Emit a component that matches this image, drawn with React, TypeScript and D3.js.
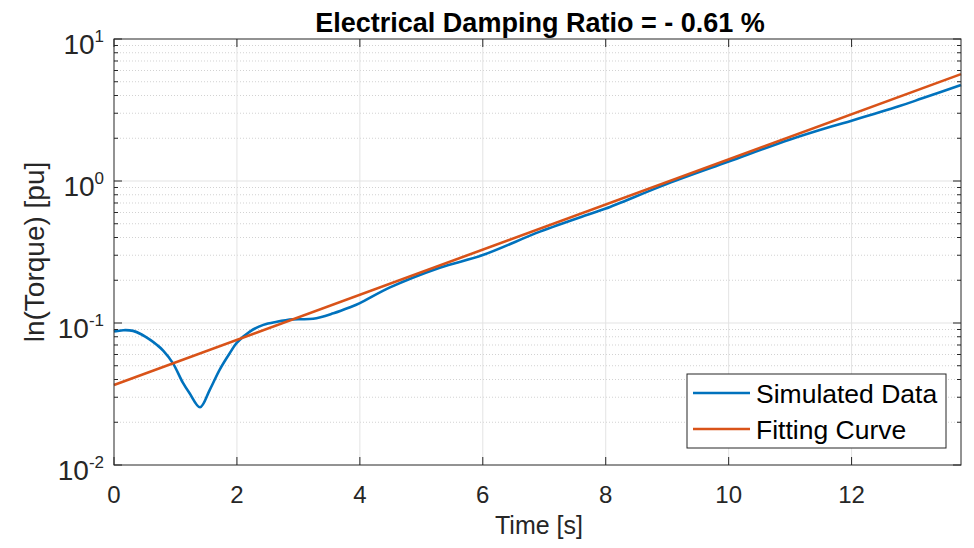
import React from "react";
import * as d3 from "d3";

// Simulated torque envelope (time in s, torque in pu)
const simTime = [0, 0.15, 0.31, 0.45, 0.59, 0.7, 0.8, 0.96, 1.12, 1.23, 1.4, 1.56, 1.72, 1.88, 2.0, 2.21, 2.43, 2.65, 2.91, 3.24, 3.57, 3.84, 4.0, 4.49, 5.3, 6.0, 6.93, 7.74, 8.0, 9.0, 10.0, 11.0, 11.7, 12.0, 12.78, 13.15, 13.78];
const simTorque = [0.087, 0.089, 0.088, 0.083, 0.076, 0.07, 0.064, 0.052, 0.038, 0.032, 0.0255, 0.034, 0.047, 0.061, 0.0727, 0.087, 0.097, 0.102, 0.106, 0.107, 0.117, 0.129, 0.138, 0.178, 0.245, 0.301, 0.44, 0.586, 0.64, 0.955, 1.37, 1.96, 2.44, 2.66, 3.37, 3.82, 4.74];

// Exponential fit (a straight line on the log axis): endpoints
const fitTime = [0, 13.78];
const fitTorque = [0.0366, 5.66];

const xTickValues = [0, 2, 4, 6, 8, 10, 12];
const yDecades = [0.01, 0.1, 1, 10];
const yExponents = ["-2", "-1", "0", "1"];

const legendLabels = ["Simulated Data", "Fitting Curve"];
const seriesColors = ["#0072BD", "#D95319"];

const W = 974;
const H = 548;
const M = { left: 114, right: 961, top: 39, bottom: 465 };
const FONT = "'Liberation Sans', Arial, Helvetica, sans-serif";
const INK = "#262626";

export default function App() {
  const x = d3.scaleLinear().domain([0, 13.78]).range([M.left, M.right]);
  const y = d3.scaleLog().domain([0.01, 10]).range([M.bottom, M.top]);

  const minorY: number[] = [];
  for (let d = 0; d < yDecades.length - 1; d++) {
    for (let k = 2; k <= 9; k++) minorY.push(yDecades[d] * k);
  }

  const line = d3
    .line<[number, number]>()
    .x((d) => x(d[0]))
    .y((d) => y(d[1]))
    .curve(d3.curveCatmullRom.alpha(0.5));

  const simPts = simTime.map((t, i) => [t, simTorque[i]] as [number, number]);
  const fitPts = fitTime.map((t, i) => [t, fitTorque[i]] as [number, number]);
  const fitLine = d3
    .line<[number, number]>()
    .x((d) => x(d[0]))
    .y((d) => y(d[1]));

  const majorLen = 8;
  const minorLen = 4;

  return (
    <svg
      width={W}
      height={H}
      style={{ position: "absolute", left: 0, top: 0, background: "#fff" }}
      fontFamily={FONT}
    >
      <rect x={0} y={0} width={W} height={H} fill="#fff" />

      {/* minor grid (log axis) */}
      {minorY.map((v) => (
        <line
          key={"mg" + v}
          x1={M.left}
          x2={M.right}
          y1={y(v)}
          y2={y(v)}
          stroke="#d2d2d2"
          strokeWidth={1}
          strokeDasharray="1,2"
        />
      ))}
      {/* major grid */}
      {xTickValues.slice(1).map((v) => (
        <line key={"gx" + v} x1={x(v)} x2={x(v)} y1={M.top} y2={M.bottom} stroke="#e3e3e3" strokeWidth={1} />
      ))}
      {yDecades.slice(1, -1).map((v) => (
        <line key={"gy" + v} x1={M.left} x2={M.right} y1={y(v)} y2={y(v)} stroke="#e3e3e3" strokeWidth={1} />
      ))}

      {/* data */}
      <path d={line(simPts) || ""} fill="none" stroke={seriesColors[0]} strokeWidth={2.6} strokeLinejoin="round" />
      <path d={fitLine(fitPts) || ""} fill="none" stroke={seriesColors[1]} strokeWidth={2.6} />

      {/* axes box */}
      <rect
        x={M.left}
        y={M.top}
        width={M.right - M.left}
        height={M.bottom - M.top}
        fill="none"
        stroke={INK}
        strokeWidth={1}
      />

      {/* x ticks (inward, bottom and top) */}
      {xTickValues.map((v) => (
        <g key={"xt" + v}>
          <line x1={x(v)} x2={x(v)} y1={M.bottom} y2={M.bottom - majorLen} stroke={INK} />
          <line x1={x(v)} x2={x(v)} y1={M.top} y2={M.top + majorLen} stroke={INK} />
          <text x={x(v)} y={503} textAnchor="middle" fontSize={24} fill={INK}>
            {v}
          </text>
        </g>
      ))}

      {/* y ticks (inward, left and right) */}
      {yDecades.map((v, i) => (
        <g key={"yt" + v}>
          <line x1={M.left} x2={M.left + majorLen} y1={y(v)} y2={y(v)} stroke={INK} />
          <line x1={M.right} x2={M.right - majorLen} y1={y(v)} y2={y(v)} stroke={INK} />
          <text x={104} y={y(v) + 15} textAnchor="end" fontSize={28} fill={INK}>
            <tspan>10</tspan>
            <tspan dy={-12} fontSize={17}>
              {yExponents[i]}
            </tspan>
          </text>
        </g>
      ))}
      {minorY.map((v) => (
        <g key={"ymt" + v}>
          <line x1={M.left} x2={M.left + minorLen} y1={y(v)} y2={y(v)} stroke={INK} />
          <line x1={M.right} x2={M.right - minorLen} y1={y(v)} y2={y(v)} stroke={INK} />
        </g>
      ))}

      {/* labels */}
      <text x={540} y={32} textAnchor="middle" fontSize={27} fontWeight="bold" fill="#000">
        Electrical Damping Ratio = - 0.61 %
      </text>
      <text x={539} y={534} textAnchor="middle" fontSize={25} fill={INK}>
        Time [s]
      </text>
      <text transform="translate(44,252) rotate(-90)" textAnchor="middle" fontSize={28} fill={INK}>
        ln(Torque) [pu]
      </text>

      {/* legend */}
      <g>
        <rect x={687} y={374} width={259} height={74} fill="#fff" stroke={INK} strokeWidth={1} />
        {legendLabels.map((lab, i) => (
          <g key={lab}>
            <line x1={693} x2={750} y1={393 + i * 36} y2={393 + i * 36} stroke={seriesColors[i]} strokeWidth={2.6} />
            <text x={756} y={393 + i * 36 + 9.5} fontSize={26.5} fill="#000">
              {lab}
            </text>
          </g>
        ))}
      </g>
    </svg>
  );
}
